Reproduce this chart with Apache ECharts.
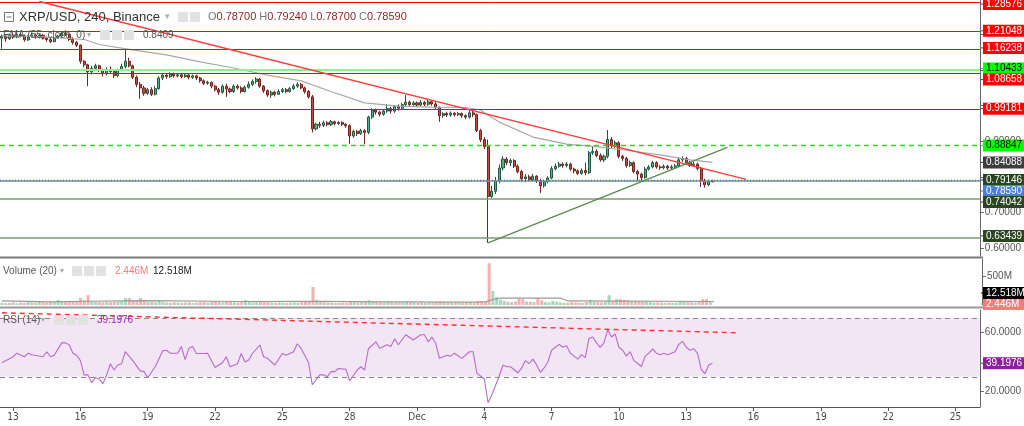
<!DOCTYPE html>
<html><head><meta charset="utf-8">
<script src="https://cdn.jsdelivr.net/npm/echarts@6/dist/echarts.min.js"></script>
<style>html,body{margin:0;padding:0;background:#fff;}#c{width:1024px;height:426px;}</style>
</head><body><div id="c"></div>
<script>
// ---------- DATA ----------
// 4h slots; slot index = k + 3, k = 0 is 13 Nov 00:00
const firstK = -3;
const slotCount = 262;
// candles k = -3 .. 187 : [open, close, low, high]
const ohlc = [
[1.190,1.195,1.160,1.200],[1.195,1.188,1.180,1.200],[1.188,1.198,1.185,1.203],
[1.198,1.193,1.188,1.205],[1.193,1.200,1.190,1.206],[1.200,1.196,1.192,1.204],[1.196,1.185,1.180,1.200],[1.185,1.195,1.182,1.198],
[1.195,1.199,1.191,1.205],[1.199,1.192,1.188,1.203],[1.192,1.198,1.189,1.202],[1.198,1.190,1.186,1.201],[1.190,1.186,1.180,1.194],
[1.186,1.180,1.176,1.190],[1.180,1.190,1.178,1.193],[1.190,1.196,1.188,1.199],[1.196,1.204,1.193,1.210],[1.204,1.200,1.196,1.212],
[1.200,1.186,1.182,1.203],[1.186,1.178,1.172,1.190],[1.178,1.170,1.165,1.182],[1.170,1.125,1.118,1.172],[1.125,1.115,1.108,1.128],
[1.115,1.095,1.055,1.118],[1.095,1.105,1.088,1.112],[1.105,1.112,1.100,1.118],[1.112,1.100,1.095,1.115],[1.100,1.090,1.082,1.104],
[1.090,1.102,1.085,1.108],[1.102,1.096,1.092,1.110],[1.096,1.085,1.078,1.100],[1.085,1.100,1.080,1.104],[1.100,1.110,1.097,1.118],
[1.110,1.125,1.105,1.157],[1.125,1.112,1.108,1.135],[1.112,1.080,1.075,1.115],[1.080,1.060,1.052,1.085],[1.060,1.050,1.020,1.066],
[1.050,1.035,1.028,1.056],[1.035,1.045,1.030,1.050],[1.045,1.032,1.027,1.052],[1.032,1.048,1.029,1.055],[1.048,1.078,1.045,1.083],
[1.078,1.086,1.072,1.092],[1.086,1.082,1.076,1.090],[1.082,1.089,1.078,1.094],[1.089,1.084,1.079,1.093],[1.084,1.087,1.080,1.092],
[1.087,1.082,1.077,1.090],[1.082,1.086,1.078,1.092],[1.086,1.080,1.074,1.089],[1.080,1.084,1.075,1.088],[1.084,1.078,1.072,1.087],
[1.078,1.070,1.065,1.081],[1.070,1.063,1.058,1.074],[1.063,1.066,1.059,1.070],[1.066,1.055,1.049,1.068],[1.055,1.045,1.040,1.059],
[1.045,1.038,1.030,1.050],[1.038,1.055,1.034,1.060],[1.055,1.047,1.025,1.062],[1.047,1.040,1.035,1.051],[1.040,1.055,1.036,1.060],
[1.055,1.050,1.045,1.060],[1.050,1.040,1.035,1.055],[1.040,1.052,1.037,1.057],[1.052,1.060,1.048,1.068],[1.060,1.068,1.055,1.074],
[1.068,1.075,1.062,1.080],[1.075,1.055,1.050,1.078],[1.055,1.042,1.036,1.058],[1.042,1.030,1.025,1.046],[1.030,1.038,1.022,1.043],
[1.038,1.032,1.026,1.042],[1.032,1.040,1.030,1.046],[1.040,1.045,1.036,1.050],[1.045,1.040,1.035,1.050],[1.040,1.048,1.037,1.053],
[1.048,1.055,1.044,1.062],[1.055,1.060,1.050,1.066],[1.060,1.050,1.046,1.064],[1.050,1.040,1.034,1.054],[1.040,1.025,1.020,1.044],
[1.025,0.935,0.925,1.030],[0.935,0.948,0.930,0.952],[0.948,0.945,0.938,0.955],[0.945,0.952,0.940,0.958],[0.952,0.947,0.942,0.957],
[0.947,0.955,0.943,0.960],[0.955,0.950,0.945,0.958],[0.950,0.953,0.946,0.957],[0.953,0.948,0.943,0.956],[0.948,0.944,0.938,0.951],
[0.944,0.915,0.893,0.948],[0.915,0.928,0.910,0.933],[0.928,0.922,0.915,0.932],[0.922,0.930,0.918,0.935],[0.930,0.925,0.892,0.934],
[0.925,0.968,0.920,0.972],[0.968,0.988,0.963,0.993],[0.988,0.982,0.975,0.992],[0.982,0.976,0.970,0.986],[0.976,0.985,0.972,0.990],
[0.985,0.992,0.980,1.005],[0.992,0.985,0.978,0.997],[0.985,0.998,0.980,1.002],[0.998,0.993,0.986,1.004],[0.993,1.003,0.990,1.008],
[1.003,1.010,0.998,1.030],[1.010,1.003,0.998,1.014],[1.003,1.008,0.999,1.013],[1.008,1.002,0.996,1.012],[1.002,1.009,0.998,1.016],
[1.009,1.004,0.999,1.013],[1.004,1.011,1.000,1.018],[1.011,1.005,1.000,1.015],[1.005,0.995,0.990,1.010],[0.995,0.972,0.955,0.998],
[0.972,0.978,0.966,0.982],[0.978,0.974,0.968,0.983],[0.974,0.979,0.969,0.984],[0.979,0.975,0.970,0.982],[0.975,0.978,0.971,0.983],
[0.978,0.972,0.966,0.981],[0.972,0.968,0.962,0.976],[0.968,0.980,0.964,0.988],[0.980,0.975,0.968,0.986],[0.975,0.930,0.926,0.978],
[0.930,0.905,0.898,0.935],[0.905,0.885,0.878,0.912],[0.885,0.745,0.615,0.905],[0.745,0.760,0.740,0.775],[0.760,0.790,0.752,0.800],
[0.790,0.825,0.782,0.835],[0.825,0.850,0.818,0.858],[0.850,0.840,0.833,0.856],[0.840,0.846,0.830,0.852],[0.846,0.830,0.825,0.850],
[0.830,0.815,0.810,0.835],[0.815,0.795,0.788,0.820],[0.795,0.800,0.785,0.808],[0.800,0.792,0.787,0.806],[0.792,0.802,0.788,0.808],
[0.802,0.790,0.783,0.805],[0.790,0.775,0.755,0.795],[0.775,0.787,0.770,0.792],[0.787,0.797,0.782,0.802],[0.797,0.823,0.793,0.830],
[0.823,0.830,0.818,0.838],[0.830,0.836,0.826,0.842],[0.836,0.832,0.826,0.841],[0.832,0.836,0.827,0.842],[0.836,0.822,0.817,0.840],
[0.822,0.817,0.810,0.826],[0.817,0.810,0.805,0.821],[0.810,0.818,0.806,0.824],[0.818,0.812,0.805,0.840],[0.812,0.868,0.808,0.873],
[0.868,0.872,0.862,0.885],[0.872,0.860,0.855,0.878],[0.860,0.848,0.843,0.866],[0.848,0.858,0.842,0.863],[0.858,0.905,0.852,0.932],
[0.905,0.888,0.880,0.912],[0.888,0.896,0.882,0.902],[0.896,0.858,0.852,0.900],[0.858,0.852,0.845,0.862],[0.852,0.832,0.826,0.856],
[0.832,0.840,0.828,0.846],[0.840,0.815,0.810,0.844],[0.815,0.808,0.790,0.820],[0.808,0.798,0.786,0.812],[0.798,0.822,0.795,0.828],
[0.822,0.828,0.818,0.833],[0.828,0.840,0.824,0.845],[0.840,0.828,0.823,0.844],[0.828,0.826,0.820,0.833],[0.826,0.830,0.821,0.835],
[0.830,0.825,0.820,0.834],[0.825,0.828,0.821,0.834],[0.828,0.831,0.823,0.836],[0.831,0.848,0.828,0.856],[0.848,0.852,0.842,0.858],
[0.852,0.840,0.835,0.856],[0.840,0.832,0.828,0.845],[0.832,0.836,0.828,0.842],[0.836,0.824,0.818,0.840],[0.824,0.790,0.772,0.828],
[0.790,0.778,0.770,0.795],[0.778,0.787,0.774,0.792],[0.787,0.7859,0.787,0.7924]
];
// volume per candle (millions)
const volumes = [
40,30,35,45,30,40,35,50,45,40,55,45,40,
50,45,85,60,55,50,60,70,120,80,
170,70,55,50,45,60,50,55,60,65,
120,120,80,70,120,65,50,55,45,70,
50,40,35,45,40,35,40,45,35,40,
45,50,40,55,60,50,45,60,50,45,
40,50,86,55,45,50,60,55,50,45,
40,45,40,35,40,45,40,50,55,70,
310,90,60,50,45,40,35,40,45,40,
70,50,45,55,60,80,55,50,45,40,
50,45,40,45,40,55,45,40,35,40,
35,40,35,45,60,45,40,35,40,35,
40,45,50,40,70,70,60,720,240,140,
90,70,55,50,60,120,100,60,55,50,
120,80,50,45,70,55,45,40,40,50,
45,40,35,50,90,60,50,45,55,170,
70,100,100,90,80,60,70,65,60,55,
50,40,45,40,35,40,35,40,70,55,
50,45,40,60,100,100,50,2.446
];
// traced EMA(55) points [k, value]
const emaPts = [[-3,1.196],[7,1.194],[19,1.186],[23,1.172],[32,1.157],[41,1.143],[50,1.123],[59,1.106],[68,1.086],[77,1.070],[85,1.040],[94,1.008],[103,0.999],[112,0.996],[121,0.995],[125,0.988],[126,0.980],[130,0.954],[139,0.912],[148,0.892],[155,0.886],[164,0.875],[173,0.862],[181,0.848],[187,0.841]];
// traced volume MA(20) points [k, value]
const volMaPts = [[-3,70],[10,55],[20,65],[35,75],[60,60],[80,65],[100,55],[120,50],[126,55],[128,95],[130,120],[146,120],[148,70],[187,60]];
// traced RSI(14) points [k, value]
const rsiPts = [[-3,39.5],[0,43.6],[1,46],[3,43.6],[4,46],[5,45],[8,43.6],[9,47],[10,43.6],[11,44.6],[13,53],[14,53],[15,51.7],[16,46],[17,44.6],[18,41],[19,31.3],[20,31.3],[21,26],[22,29.3],[23,28.7],[24,25.2],[25,31],[26,38.8],[27,34.6],[28,38],[29,38.8],[30,47],[32,41],[34,34],[35,33.5],[36,29.3],[38,36.8],[40,47.6],[41,48],[42,46],[44,46],[45,50.5],[46,41.6],[47,49.3],[48,50.5],[49,45.8],[51,45.8],[52,46],[54,36.3],[56,39.5],[57,43.6],[58,36.8],[60,38.8],[61,45.8],[62,40],[63,41.4],[64,45.8],[66,51.7],[67,43.6],[68,42.5],[70,38],[72,45.8],[73,44.6],[75,47],[76,52.4],[77,49.3],[79,39.5],[80,24.6],[82,31.3],[83,31.3],[84,30],[85,33.5],[86,33.5],[87,35.6],[89,35],[90,27.3],[92,34.6],[93,36.8],[94,34.6],[95,49],[97,53.7],[98,49.3],[100,51.7],[101,50.5],[102,55.7],[103,51.7],[105,58.5],[107,55],[109,58.5],[110,58.5],[111,53.7],[112,56.9],[113,52.8],[114,42.5],[116,44.6],[117,44],[118,46],[120,42.5],[122,47],[123,47],[124,32.7],[125,30.5],[126,28.5],[127,12.4],[128,17.7],[130,30.5],[131,38],[132,36.8],[133,36.8],[135,32.7],[136,36],[137,41],[138,39],[139,42],[140,38],[141,33],[142,36],[143,40],[144,48],[145,50],[146,52],[147,50],[148,51],[149,46],[150,44],[151,42],[152,45],[153,43],[154,56],[155,57],[156,53],[157,50],[158,53],[159,62],[160,57],[161,59],[162,50],[163,48],[164,44],[165,47],[166,41],[167,39],[168,37],[169,44],[170,46],[171,49],[172,46],[173,45],[174,46],[175,45],[176,46],[177,47],[178,52],[179,54],[180,50],[181,48],[182,49],[183,46],[184,35],[185,32],[186,38],[187,39.1976]];
// drawn levels & trend lines
const redLevels = [1.28576, 1.21048, 1.16238, 1.08658, 0.99181];
const limeLevel = 1.10433;
const dashedGreenLevel = 0.88847;
const oliveLevels = [0.79146, 0.74042, 0.63439];
const lastPrice = 0.78590;
const emaLast = 0.84088;
const redTrend = [[7, 1.2927], [196, 0.7933]];
const greenTrend = [[127, 0.615], [191, 0.883]];
const rsiTrend = [[-3, 73.4], [194, 59.8]];
const rsiBands = [70, 30];
const priceTicks = [0.6, 0.7, 0.8, 0.9, 1.0, 1.1, 1.2];
const volTicks = [500];
const rsiTicks = [20, 60];
const volLast = 2.446, volMaLast = 12.518, rsiLast = 39.1976;
const ohlcText = ['0.78700', '0.79240', '0.78700', '0.78590'];

// ---------- BUILD ----------
const cats = [];
for (let i = 0; i < slotCount; i++) {
  const d = new Date(Date.UTC(2021, 10, 12, 12) + i * 4 * 3600e3);
  cats.push(d.toISOString().slice(0, 13));
}
const MON = ['Jan','Feb','Mar','Apr','May','Jun','Jul','Aug','Sep','Oct','Nov','Dec'];
const sparse = pts => { const a = new Array(slotCount).fill(null); pts.forEach(p => { a[p[0] - firstK] = p[1]; }); return a; };
const ci = k => k - firstK;
const UP = '#4fb58a', DOWN = '#cc4a44';
const volData = volumes.map((v, i) => ({ value: v, itemStyle: { color: ohlc[i][1] >= ohlc[i][0] ? 'rgba(83,185,135,0.55)' : 'rgba(240,110,115,0.55)' } }));
const labInterval = idx => idx >= 3 && (idx - 3) % 18 === 0;
const font = "'Liberation Sans', Arial, sans-serif";

const refSeries = (axis, items, lineStyle, z) => ({
  type: 'line', xAxisIndex: axis, yAxisIndex: axis, data: [], silent: true, z: z || 2,
  markLine: { silent: true, symbol: ['none', 'none'], label: { show: false }, animation: false, lineStyle, data: items }
});
const hl = vals => vals.map(v => ({ yAxis: v }));
const seg = pts => [[{ coord: [ci(pts[0][0]), pts[0][1]] }, { coord: [ci(pts[1][0]), pts[1][1]] }]];

const xBase = { type: 'category', data: cats, boundaryGap: true };
const chart = echarts.init(document.getElementById('c'), null, { renderer: 'canvas' });
const priceLabel = { formatter: v => v.toFixed(5), color: '#555', fontSize: 10, fontFamily: font, margin: 5 };
const option = {
  animation: false,
  backgroundColor: '#ffffff',
  grid: [
    { left: 0, right: 42, top: 0, height: 256 },
    { left: 0, right: 42, top: 259, height: 46 },
    { left: 0, right: 42, top: 310, height: 97 }
  ],
  xAxis: [
    Object.assign({}, xBase, { gridIndex: 0, show: false }),
    Object.assign({}, xBase, { gridIndex: 1, show: false }),
    Object.assign({}, xBase, { gridIndex: 2,
      axisLine: { show: true, lineStyle: { color: '#555', width: 1 } },
      axisTick: { show: true, interval: labInterval, alignWithLabel: true, length: 4, lineStyle: { color: '#555' } },
      axisLabel: { interval: labInterval, color: '#4a4a4a', fontSize: 10, margin: 5,
        fontFamily: "'DejaVu Sans Condensed', 'Liberation Sans Narrow', 'Liberation Sans', sans-serif",
        formatter: v => { const d = +v.slice(8, 10); return d === 1 ? MON[+v.slice(5, 7) - 1] : String(d); } },
      splitLine: { show: false } })
  ],
  yAxis: [
    { gridIndex: 0, type: 'value', position: 'right', min: 0.5779, max: 1.2970,
      axisLine: { show: true, lineStyle: { color: '#666' } },
      axisTick: { show: true, customValues: priceTicks, length: 4, lineStyle: { color: '#666' } },
      axisLabel: Object.assign({ customValues: priceTicks }, priceLabel),
      splitLine: { show: false } },
    { gridIndex: 1, type: 'value', position: 'right', min: 0, max: 793,
      axisLine: { show: true, lineStyle: { color: '#666' } },
      axisTick: { show: true, customValues: volTicks, length: 4, lineStyle: { color: '#666' } },
      axisLabel: { customValues: volTicks, formatter: v => v + 'M', color: '#555', fontSize: 10, fontFamily: font, margin: 5 },
      splitLine: { show: false } },
    { gridIndex: 2, type: 'value', position: 'right', min: 9.5, max: 75.3,
      axisLine: { show: true, lineStyle: { color: '#666' } },
      axisTick: { show: true, customValues: rsiTicks, length: 4, lineStyle: { color: '#666' } },
      axisLabel: { customValues: rsiTicks, formatter: v => v.toFixed(4), color: '#555', fontSize: 10, fontFamily: font, margin: 5 },
      splitLine: { show: false } }
  ],
  series: [
    refSeries(0, hl(redLevels), { color: '#ff0000', width: 1, type: 'solid', opacity: 1 }),
    refSeries(0, hl([limeLevel]), { color: '#8cf08c', width: 2, type: 'solid', opacity: 1 }),
    refSeries(0, hl([dashedGreenLevel]), { color: '#22dd22', width: 1.3, type: [5, 4], opacity: 1 }),
    refSeries(0, hl(oliveLevels), { color: '#7d9a74', width: 1.6, type: 'solid', opacity: 1 }),
    refSeries(0, hl([lastPrice]), { color: '#3b6fe6', width: 1.3, type: [1, 2], opacity: 1 }),
    { type: 'candlestick', xAxisIndex: 0, yAxisIndex: 0, data: ohlc, barWidth: '68%', z: 3,
      itemStyle: { color: UP, color0: DOWN, borderColor: '#22573f', borderColor0: '#74231f', borderWidth: 1 } },
    { type: 'line', xAxisIndex: 0, yAxisIndex: 0, data: sparse(emaPts), connectNulls: true, showSymbol: false, z: 4,
      lineStyle: { color: '#a8a8a8', width: 1.2 } },
    refSeries(0, seg(redTrend), { color: '#ff3b3b', width: 1.4, type: 'solid', opacity: 1 }, 5),
    refSeries(0, seg(greenTrend), { color: '#5d8a52', width: 1.4, type: 'solid', opacity: 1 }, 5),
    { type: 'bar', xAxisIndex: 1, yAxisIndex: 1, data: volData, barWidth: '80%' },
    { type: 'line', xAxisIndex: 1, yAxisIndex: 1, data: sparse(volMaPts), connectNulls: true, showSymbol: false,
      lineStyle: { color: '#9a9a9a', width: 1.2 } },
    { type: 'line', xAxisIndex: 2, yAxisIndex: 2, data: [], silent: true, z: 1,
      markArea: { silent: true, itemStyle: { color: '#f3e6f4' }, data: [[{ yAxis: rsiBands[0] }, { yAxis: rsiBands[1] }]] } },
    refSeries(2, hl(rsiBands), { color: '#8a8a8a', type: [5, 4], width: 1, opacity: 1 }),
    refSeries(2, seg(rsiTrend), { color: '#ff3030', type: [5, 4], width: 1.4, opacity: 1 }),
    { type: 'line', xAxisIndex: 2, yAxisIndex: 2, data: sparse(rsiPts), connectNulls: true, showSymbol: false, z: 4,
      lineStyle: { color: '#b46cc8', width: 1.1 } }
  ]
};
chart.setOption(option);

// ---------- right-hand value tags (placed from the axis scales, spread to avoid overlap) ----------
const STEP = 11, BOX = 12;
const mk = (v, bg, fg, ax, txt) => ({ y: chart.convertToPixel({ yAxisIndex: ax }, v), bg, fg, txt: txt || v.toFixed(5) });
const RED = '#ff0000', LIME = '#00ff00', DG = '#2a4621';
const mainTags = [
  mk(1.28576, RED, '#fff', 0), mk(1.21048, RED, '#fff', 0), mk(1.16238, RED, '#fff', 0),
  mk(limeLevel, LIME, '#000', 0), mk(1.08658, RED, '#fff', 0), mk(0.99181, RED, '#fff', 0),
  mk(dashedGreenLevel, LIME, '#000', 0), mk(emaLast, '#3d3d3d', '#fff', 0),
  mk(oliveLevels[0], DG, '#fff', 0), mk(lastPrice, '#4a7ce6', '#fff', 0),
  mk(oliveLevels[1], DG, '#fff', 0), mk(oliveLevels[2], DG, '#fff', 0)
];
mainTags.sort((a, b) => a.y - b.y);
let prev = -1e9;
mainTags.forEach(t => { t.y = Math.max(t.y, prev + STEP); prev = t.y; });
// axis labels almost fully covered by a tag are not drawn (as the price scale does)
const visibleTicks = priceTicks.filter(v => {
  const y = chart.convertToPixel({ yAxisIndex: 0 }, v);
  return !mainTags.some(t => Math.abs(t.y - y) < 3.8);
});
const volBottom = chart.convertToPixel({ yAxisIndex: 1 }, 0);
const volTags = [mk(volLast, '#f77b7b', '#fff', 1, volLast.toFixed(3) + 'M'), mk(volMaLast, '#000', '#fff', 1, volMaLast.toFixed(3) + 'M')];
volTags.sort((a, b) => b.y - a.y);
prev = 1e9;
volTags.forEach((t, i) => { t.y = Math.min(t.y, i === 0 ? volBottom - 1 : prev - STEP); prev = t.y; });
const rsiTags = [mk(rsiLast, '#8e1f9e', '#fff', 2, rsiLast.toFixed(4))];
const axisX = 982;
const tagEls = [];
[...mainTags, ...volTags, ...rsiTags].forEach(t => {
  tagEls.push({ type: 'rect', z: 100, shape: { x: axisX + 1, y: t.y - BOX / 2, width: 41, height: BOX }, style: { fill: t.bg } });
  tagEls.push({ type: 'line', z: 100, shape: { x1: axisX - 1, y1: t.y, x2: axisX + 2, y2: t.y }, style: { stroke: t.bg, lineWidth: 1 } });
  tagEls.push({ type: 'text', z: 101, x: axisX + 4, y: t.y, style: { text: t.txt, fill: t.fg, font: '10px ' + font, verticalAlign: 'middle', align: 'left' } });
});

// ---------- legends / headers ----------
const iconBoxes = (x0, y, n) => {
  const a = [];
  for (let i = 0; i < n; i++) a.push({ type: 'rect', z: 50, shape: { x: x0 + i * 12, y: y - 5, width: 10, height: 10 }, style: { fill: '#e2e2e2' } });
  return a;
};
const txt = (x, y, s, fill, size) => ({ type: 'text', z: 60, x, y, style: { text: s, fill, font: size + 'px ' + font, verticalAlign: 'middle' } });
const header = [
  { type: 'rect', z: 60, shape: { x: 4.5, y: 12.5, width: 9, height: 9 }, style: { fill: 'none', stroke: '#777', lineWidth: 1 } },
  { type: 'line', z: 60, shape: { x1: 6.5, y1: 17, x2: 11.5, y2: 17 }, style: { stroke: '#777', lineWidth: 1 } },
  txt(19, 17, 'XRP/USD, 240, Binance', '#333', 13),
  txt(165, 17, '▾', '#aaa', 9),
  ...iconBoxes(178, 17, 2),
  { type: 'text', z: 60, x: 208, y: 17, style: { verticalAlign: 'middle', font: '11px ' + font,
    text: '{k|O}{v|' + ohlcText[0] + '} {k|H}{v|' + ohlcText[1] + '} {k|L}{v|' + ohlcText[2] + '} {k|C}{v|' + ohlcText[3] + '}',
    rich: { k: { fill: '#777', font: '11px ' + font }, v: { fill: '#8a1f1f', font: '11px ' + font } } } },
  txt(3, 35, 'EMA (55, close, 0)', '#555', 10),
  txt(87, 35, '▾', '#aaa', 8),
  ...iconBoxes(100, 35, 3),
  txt(143, 35, '0.8409', '#555', 10),
  txt(3, 271, 'Volume (20)', '#555', 10),
  txt(60, 271, '▾', '#aaa', 8),
  ...iconBoxes(72, 271, 3),
  txt(115, 271, volLast.toFixed(3) + 'M', '#f77b7b', 10),
  txt(153, 271, volMaLast.toFixed(3) + 'M', '#222', 10),
  txt(3, 320, 'RSI (14)', '#555', 10),
  txt(41, 320, '▾', '#aaa', 8),
  ...iconBoxes(54, 320, 3),
  txt(97, 320, rsiLast.toFixed(4), '#9c27b0', 10),
  { type: 'line', z: 90, shape: { x1: 0, y1: 257.5, x2: axisX + 1, y2: 257.5 }, style: { stroke: '#7a7a7a', lineWidth: 2 } },
  { type: 'line', z: 90, shape: { x1: 0, y1: 307.5, x2: axisX + 1, y2: 307.5 }, style: { stroke: '#9a9a9a', lineWidth: 2 } }
];
chart.setOption({
  yAxis: [{ axisLabel: Object.assign({ customValues: visibleTicks }, priceLabel) }, {}, {}],
  graphic: [...header, ...tagEls]
});
</script>
</body></html>
